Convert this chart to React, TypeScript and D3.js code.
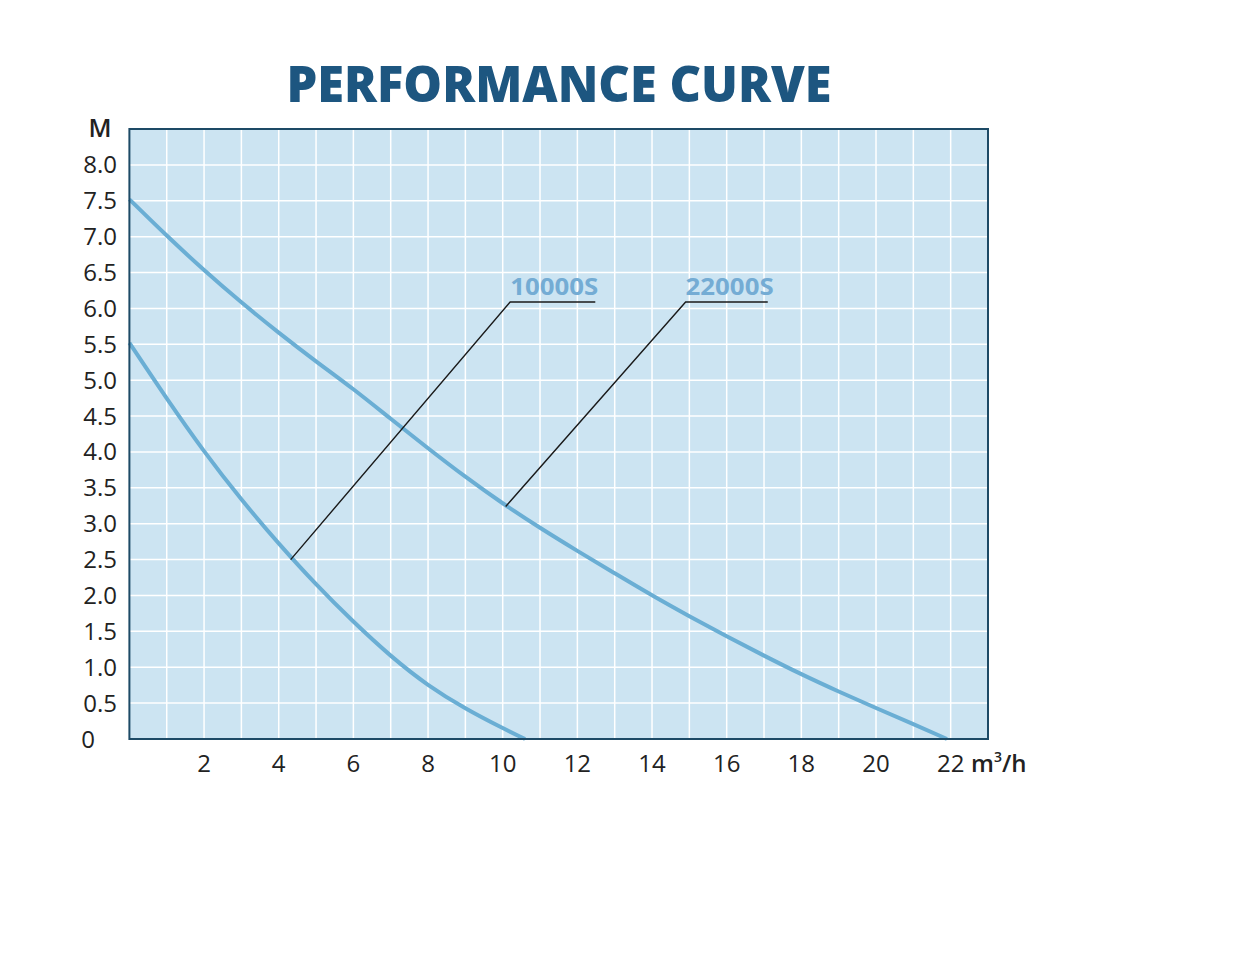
import React from 'react';
import * as d3 from 'd3';

// flow (m3/h) vs head (M)
const flow22000 = [0, 1, 2, 3, 4, 5, 6, 7, 8, 9, 10, 11, 12, 13, 14, 15, 16, 17, 18, 19, 20, 21, 21.9];
const head22000 = [7.52, 7.01, 6.53, 6.08, 5.66, 5.26, 4.88, 4.46, 4.05, 3.65, 3.28, 2.94, 2.62, 2.31, 2.0, 1.71, 1.43, 1.16, 0.9, 0.66, 0.43, 0.21, 0];
const flow10000 = [0, 1, 2, 3, 4, 5, 6, 7, 8, 9, 10, 10.6];
const head10000 = [5.52, 4.74, 4.0, 3.33, 2.72, 2.15, 1.63, 1.15, 0.74, 0.42, 0.15, 0];

const yTicks = [0, 0.5, 1, 1.5, 2, 2.5, 3, 3.5, 4, 4.5, 5, 5.5, 6, 6.5, 7, 7.5, 8];
const xTicks = [2, 4, 6, 8, 10, 12, 14, 16, 18, 20, 22];

// leader lines: anchor on curve -> elbow -> end of underline
const callouts = [
  { name: '10000S', anchor: [4.32, 2.5], elbow: [10.2, 6.09], end: 12.48 },
  { name: '22000S', anchor: [10.08, 3.24], elbow: [14.9, 6.09], end: 17.1 },
];

const W = 1248;
const H = 964;

export default function App() {
  const x = d3.scaleLinear().domain([0, 23]).range([129.4, 988]);
  const y = d3.scaleLinear().domain([0, 8.5]).range([739, 129]);

  const line = d3
    .line<[number, number]>()
    .x(d => x(d[0]))
    .y(d => y(d[1]))
    .curve(d3.curveBasis);

  const big = flow22000.map((f, i) => [f, head22000[i]] as [number, number]);
  const small = flow10000.map((f, i) => [f, head10000[i]] as [number, number]);

  const gridX = d3.range(1, 23);
  const gridY = d3.range(0.5, 8.5, 0.5);

  const font = "'Open Sans', 'Noto Sans', sans-serif";
  const curveColor = '#6aaed4';

  return (
    <svg width={W} height={H} style={{ position: 'absolute', left: 0, top: 0, background: '#fff' }}>
      <text
        x={559}
        y={102}
        textAnchor="middle"
        fontFamily={font}
        fontWeight={800}
        fontSize={50}
        fill="#1d5680"
        textLength={545}
        lengthAdjust="spacingAndGlyphs"
      >
        PERFORMANCE CURVE
      </text>

      <rect x={x(0)} y={y(8.5)} width={x(23) - x(0)} height={y(0) - y(8.5)} fill="#cce4f2" />

      {gridX.map(g => (
        <line key={'gx' + g} x1={x(g)} x2={x(g)} y1={y(0)} y2={y(8.5)} stroke="#fff" strokeWidth={1.5} />
      ))}
      {gridY.map(g => (
        <line key={'gy' + g} x1={x(0)} x2={x(23)} y1={y(g)} y2={y(g)} stroke="#fff" strokeWidth={1.5} />
      ))}

      <path d={line(big) || ''} fill="none" stroke={curveColor} strokeWidth={4} />
      <path d={line(small) || ''} fill="none" stroke={curveColor} strokeWidth={4} />

      {callouts.map(c => (
        <g key={c.name}>
          <polyline
            points={`${x(c.anchor[0])},${y(c.anchor[1])} ${x(c.elbow[0])},${y(c.elbow[1])} ${x(c.end)},${y(c.elbow[1])}`}
            fill="none"
            stroke="#1a1a1a"
            strokeWidth={1.4}
          />
          <text
            x={x(c.elbow[0])}
            y={y(c.elbow[1]) - 7}
            fontFamily={font}
            fontWeight={700}
            fontSize={24}
            fill="#74acd4"
            textLength={88}
            lengthAdjust="spacingAndGlyphs"
          >
            {c.name}
          </text>
        </g>
      ))}

      <rect
        x={x(0)}
        y={y(8.5)}
        width={x(23) - x(0)}
        height={y(0) - y(8.5)}
        fill="none"
        stroke="#1d4a66"
        strokeWidth={2}
      />

      {yTicks.map(t => (
        <text
          key={'yt' + t}
          x={t === 0 ? 88 : 117}
          y={y(t) + 8.5}
          textAnchor={t === 0 ? 'middle' : 'end'}
          fontFamily={font}
          fontSize={24}
          fill="#222"
        >
          {t === 0 ? '0' : t.toFixed(1)}
        </text>
      ))}
      <text x={100} y={137} textAnchor="middle" fontFamily={font} fontWeight={600} fontSize={25} fill="#222">
        M
      </text>

      {xTicks.map(t => (
        <text key={'xt' + t} x={x(t)} y={772} textAnchor="middle" fontFamily={font} fontSize={24} fill="#222">
          {t}
        </text>
      ))}
      <text x={971} y={772} fontFamily={font} fontWeight={600} fontSize={24} fill="#222">
        m<tspan dy={-10} fontSize={14}>3</tspan>
        <tspan dy={10}>/h</tspan>
      </text>
    </svg>
  );
}
